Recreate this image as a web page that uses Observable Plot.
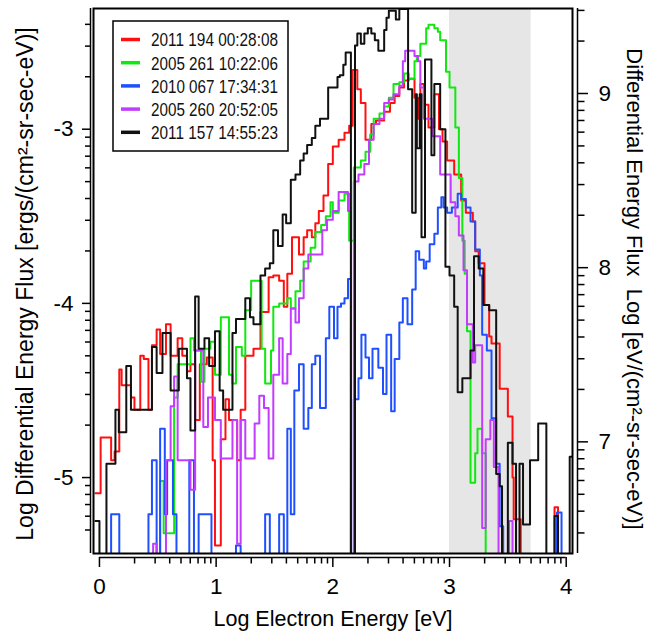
<!DOCTYPE html>
<html><head><meta charset="utf-8">
<script src="https://cdn.jsdelivr.net/npm/d3@7"></script>
<script src="https://cdn.jsdelivr.net/npm/@observablehq/plot@0.6"></script>
<style>html,body{margin:0;padding:0;background:#fff}#chart{width:646px;height:634px}</style>
</head><body><div id="chart"></div>
<script>
// ---- axes / labels ----
const xDomain = [-0.051, 4.054];
const yDomain = [-5.436, -2.307];
const ergToEvLog = 11.795;               // log10(eV per erg)
const xMajorTicks = [0, 1, 2, 3, 4];
const yMajorTicks = [-5, -4, -3];
const yRightMajorTicks = [7, 8, 9];
const minorFactors = [2, 3, 4, 5, 6, 7, 8, 9];
const shadedBand = [3, 3.699];
const xTitle = "Log Electron Energy [eV]";
const yLeftTitle = "Log Differential Energy Flux [ergs/(cm²-sr-sec-eV)]";
const yRightTitle = "Differential Energy Flux\u00A0 Log [eV/(cm²-sr-sec-eV)]";

const seriesLabels = ["2011 194 00:28:08", "2005 261 10:22:06", "2010 067 17:34:31", "2005 260 20:52:05", "2011 157 14:55:23"];
const seriesColors = ["#ff1010", "#10e810", "#1f50ff", "#c23cff", "#111111"];

// ---- data: [log energy (bin start), log flux] ; -6 = below scale ----
const red_2011_194 = [[-0.035,-5.09],[0.01,-4.77],[0.10,-4.90],[0.13,-4.85],[0.17,-4.38],[0.19,-4.47],[0.27,-4.54],[0.30,-4.61],[0.35,-4.30],[0.38,-4.32],[0.42,-4.61],[0.45,-4.24],[0.49,-4.15],[0.52,-4.29],[0.57,-4.12],[0.61,-4.30],[0.67,-4.20],[0.71,-4.30],[0.75,-4.39],[0.78,-4.35],[0.82,-4.67],[0.86,-4.35],[0.92,-4.31],[0.97,-4.90],[0.99,-5.39],[1.04,-4.78],[1.08,-4.55],[1.11,-4.67],[1.18,-4.90],[1.21,-4.61],[1.25,-4.30],[1.32,-4.26],[1.38,-4.05],[1.45,-3.85],[1.49,-3.84],[1.54,-3.87],[1.58,-4.02],[1.61,-3.83],[1.65,-3.62],[1.71,-3.72],[1.75,-3.62],[1.78,-3.58],[1.82,-3.62],[1.85,-3.54],[1.88,-3.47],[1.92,-3.38],[1.96,-3.20],[2.00,-3.10],[2.05,-3.06],[2.10,-3.02],[2.14,-2.98],[2.17,-2.66],[2.21,-2.77],[2.24,-2.85],[2.28,-3.06],[2.33,-2.97],[2.37,-2.95],[2.44,-2.90],[2.49,-2.85],[2.53,-2.81],[2.57,-2.76],[2.61,-2.72],[2.65,-2.71],[2.70,-2.82],[2.73,-2.94],[2.75,-2.74],[2.78,-2.86],[2.82,-2.99],[2.87,-2.80],[2.91,-3.00],[2.94,-3.07],[2.98,-3.18],[3.04,-3.26],[3.10,-3.41],[3.14,-3.48],[3.20,-3.53],[3.22,-3.70],[3.25,-3.77],[3.30,-4.01],[3.34,-4.19],[3.36,-4.23],[3.43,-4.49],[3.50,-4.65],[3.54,-5.00],[3.55,-5.24],[3.61,-6],[3.90,-5.17],[3.93,-6],[3.96,-6]];

const green_2005_261 = [[0.40,-6],[0.52,-5.02],[0.55,-5.32],[0.64,-4.54],[0.67,-4.35],[0.78,-4.20],[0.81,-4.27],[0.87,-4.45],[0.90,-4.26],[0.95,-4.22],[0.99,-4.41],[1.04,-4.08],[1.11,-4.41],[1.14,-4.46],[1.17,-4.25],[1.22,-4.30],[1.25,-4.04],[1.30,-3.87],[1.39,-4.26],[1.42,-4.46],[1.47,-4.27],[1.49,-4.02],[1.54,-4.00],[1.61,-3.97],[1.64,-4.03],[1.68,-3.93],[1.72,-3.87],[1.75,-3.76],[1.81,-3.68],[1.85,-3.59],[1.90,-3.55],[1.94,-3.50],[1.98,-3.42],[2.00,-3.48],[2.05,-3.41],[2.10,-3.37],[2.14,-3.64],[2.18,-3.22],[2.24,-3.18],[2.28,-3.13],[2.32,-3.03],[2.35,-2.94],[2.40,-2.91],[2.44,-2.87],[2.48,-2.82],[2.52,-2.74],[2.57,-2.73],[2.61,-2.68],[2.65,-2.71],[2.70,-2.61],[2.72,-2.58],[2.75,-2.51],[2.80,-2.42],[2.82,-2.40],[2.87,-2.42],[2.90,-2.44],[2.92,-2.49],[2.97,-2.67],[3.00,-2.76],[3.05,-2.99],[3.08,-3.28],[3.11,-3.64],[3.13,-3.83],[3.15,-4.16],[3.18,-5.03],[3.22,-4.86],[3.24,-4.72],[3.28,-4.86],[3.31,-6],[3.34,-6]];

const blue_2010_067 = [[0.05,-6],[0.10,-5.21],[0.17,-6],[0.42,-5.21],[0.45,-4.90],[0.49,-6],[0.52,-4.72],[0.56,-5.21],[0.58,-4.90],[0.63,-5.21],[0.66,-6],[0.77,-4.90],[0.81,-6],[0.85,-5.21],[0.96,-6],[1.17,-5.39],[1.21,-6],[1.42,-5.21],[1.46,-6],[1.54,-5.21],[1.58,-6],[1.61,-4.72],[1.64,-5.21],[1.67,-4.50],[1.71,-4.35],[1.75,-4.72],[1.79,-4.60],[1.82,-4.35],[1.85,-4.30],[1.89,-4.60],[1.94,-4.20],[1.97,-4.02],[2.01,-4.20],[2.04,-4.02],[2.07,-4.00],[2.10,-3.97],[2.13,-3.86],[2.155,-6],[2.18,-4.55],[2.22,-4.43],[2.245,-4.18],[2.28,-4.31],[2.31,-4.43],[2.34,-4.26],[2.39,-4.37],[2.43,-4.52],[2.46,-4.18],[2.50,-4.62],[2.53,-4.32],[2.57,-4.11],[2.60,-3.97],[2.64,-4.12],[2.68,-3.92],[2.71,-3.70],[2.74,-3.75],[2.78,-3.80],[2.80,-3.76],[2.83,-3.66],[2.87,-3.60],[2.90,-3.45],[2.93,-3.39],[2.95,-3.45],[2.98,-3.48],[3.02,-3.45],[3.07,-3.37],[3.10,-3.40],[3.14,-3.45],[3.18,-3.53],[3.22,-3.69],[3.26,-3.84],[3.28,-4.18],[3.32,-4.27],[3.36,-4.66],[3.40,-4.92],[3.43,-5.28],[3.46,-6],[3.92,-5.20],[3.96,-6],[3.98,-6]];

const magenta_2005_260 = [[0.40,-6],[0.46,-5.38],[0.49,-6],[0.57,-4.90],[0.61,-4.59],[0.64,-4.42],[0.67,-4.90],[0.78,-5.07],[0.82,-4.27],[0.89,-4.71],[0.93,-4.54],[0.99,-4.67],[1.04,-4.89],[1.14,-4.67],[1.18,-5.38],[1.21,-4.67],[1.25,-4.89],[1.33,-4.69],[1.37,-4.53],[1.41,-4.60],[1.45,-4.89],[1.49,-4.41],[1.54,-4.20],[1.57,-4.46],[1.61,-4.29],[1.64,-4.03],[1.68,-4.11],[1.71,-3.97],[1.75,-3.80],[1.79,-3.72],[1.91,-3.58],[1.95,-3.52],[2.00,-3.47],[2.05,-3.36],[2.13,-3.47],[2.155,-6],[2.18,-3.30],[2.22,-3.26],[2.27,-3.20],[2.31,-3.06],[2.35,-2.97],[2.40,-2.94],[2.44,-2.85],[2.48,-2.83],[2.52,-2.80],[2.57,-2.75],[2.60,-2.61],[2.62,-2.55],[2.70,-2.58],[2.73,-2.61],[2.75,-2.76],[2.78,-2.94],[2.85,-3.04],[2.92,-3.26],[3.01,-3.42],[3.05,-3.50],[3.08,-3.61],[3.12,-3.81],[3.15,-4.12],[3.20,-4.34],[3.22,-4.24],[3.28,-5.29],[3.31,-4.78],[3.35,-4.67],[3.38,-4.94],[3.42,-6],[3.51,-5.25],[3.54,-6],[3.56,-6]];

const black_2011_157 = [[-0.035,-5.25],[0.00,-6],[0.06,-4.92],[0.137,-4.61],[0.166,-4.74],[0.23,-4.36],[0.27,-4.61],[0.45,-4.25],[0.49,-4.40],[0.54,-4.17],[0.61,-4.50],[0.68,-4.26],[0.75,-4.43],[0.78,-4.73],[0.82,-3.96],[0.85,-4.26],[0.90,-4.20],[0.94,-4.36],[0.99,-4.16],[1.03,-4.50],[1.06,-4.61],[1.14,-4.17],[1.17,-4.09],[1.25,-3.97],[1.29,-4.08],[1.32,-4.12],[1.38,-3.84],[1.42,-3.80],[1.46,-3.77],[1.49,-3.58],[1.53,-3.67],[1.57,-3.49],[1.60,-3.54],[1.64,-3.29],[1.68,-3.26],[1.72,-3.18],[1.75,-3.14],[1.78,-3.09],[1.82,-3.05],[1.85,-2.98],[1.89,-2.94],[1.96,-2.76],[2.04,-2.70],[2.06,-2.69],[2.09,-2.63],[2.11,-2.56],[2.155,-6],[2.19,-2.52],[2.21,-2.45],[2.24,-2.51],[2.27,-2.45],[2.30,-2.42],[2.33,-2.45],[2.36,-2.49],[2.39,-2.55],[2.44,-2.43],[2.46,-2.36],[2.48,-2.32],[2.54,-2.37],[2.57,-2.31],[2.645,-2.77],[2.68,-3.48],[2.71,-2.80],[2.72,-3.11],[2.745,-2.80],[2.76,-3.62],[2.79,-2.60],[2.845,-3.15],[2.87,-2.74],[2.92,-3.00],[2.965,-3.79],[3.00,-3.84],[3.04,-4.02],[3.07,-4.51],[3.11,-4.43],[3.18,-4.27],[3.21,-3.73],[3.25,-3.80],[3.29,-4.01],[3.34,-4.04],[3.40,-4.98],[3.43,-5.05],[3.45,-6],[3.50,-4.80],[3.54,-4.92],[3.57,-6],[3.60,-4.92],[3.63,-5.27],[3.69,-4.90],[3.76,-4.69],[3.83,-6],[3.90,-5.22],[3.93,-6],[4.03,-4.88],[4.06,-4.88]];

const seriesData = [red_2011_194, green_2005_261, blue_2010_067, magenta_2005_260, black_2011_157];

// ---- derived tick sets ----
const logMinor = (decades) => decades.flatMap(d => minorFactors.map(k => d + Math.log10(k)));
const xMinor = logMinor(xMajorTicks.slice(0, -1));
const yMinor = logMinor([-6, -5, -4, -3]).filter(v => v > yDomain[0] + 0.06 && v < yDomain[1]);
const yRightMinor = logMinor([6, 7, 8, 9]).map(v => v - ergToEvLog).filter(v => v > yDomain[0] + 0.06 && v < yDomain[1]);

const lineMarks = seriesData.map((s, i) =>
  Plot.line(s, {x: d => d[0], y: d => d[1], curve: "step-after", stroke: seriesColors[i], strokeWidth: 2, clip: true})
);

const fig = Plot.plot({
  width: 646, height: 634,
  marginLeft: 93, marginRight: 74, marginTop: 8, marginBottom: 81,
  x: {domain: xDomain, axis: null},
  y: {domain: yDomain, axis: null},
  style: {fontFamily: "'Liberation Sans', Arial, Helvetica, sans-serif", background: "white", color: "black"},
  marks: [
    Plot.rect([shadedBand], {x1: d => d[0], x2: d => d[1], y1: yDomain[0], y2: yDomain[1], fill: "#e6e6e6"}),
    ...lineMarks,
    Plot.frame({stroke: "black", strokeWidth: 2}),
    Plot.ruleX([xDomain[0]], {dx: -3, strokeWidth: 1.5}),
    Plot.ruleX([xDomain[1]], {dx: 5, strokeWidth: 1.5}),
    Plot.ruleY([yDomain[0]], {x1: xMajorTicks[0], x2: xMajorTicks[xMajorTicks.length - 1], dy: 4, strokeWidth: 1.5}),
    Plot.axisY({anchor: "left", ticks: yMajorTicks, tickSize: 8, tickPadding: 9, dx: -3, fontSize: 22.5, strokeWidth: 1.5, tickFormat: d => String(d)}),
    Plot.axisY({anchor: "left", ticks: yMinor, tickSize: 5, dx: -3, strokeWidth: 1.5, tickFormat: () => ""}),
    Plot.axisY({anchor: "right", ticks: yRightMajorTicks.map(v => v - ergToEvLog), tickSize: 10, tickPadding: 11, dx: 5, fontSize: 22.5, strokeWidth: 1.5, tickFormat: d => String(Math.round(d + ergToEvLog))}),
    Plot.axisY({anchor: "right", ticks: yRightMinor, tickSize: 6.5, dx: 5, strokeWidth: 1.5, tickFormat: () => ""}),
    Plot.axisX({anchor: "bottom", ticks: xMajorTicks, tickSize: 10, tickPadding: 11, dy: 4, fontSize: 22.5, strokeWidth: 1.5, tickFormat: d => String(d)}),
    Plot.axisX({anchor: "bottom", ticks: xMinor, tickSize: 6.5, dy: 4, strokeWidth: 1.5, tickFormat: () => ""}),
    Plot.text([yLeftTitle], {text: d => d, frameAnchor: "left", textAnchor: "middle", dx: -61, dy: 3, rotate: -90, lineAnchor: "bottom", fontSize: 23}),
    Plot.text([yRightTitle], {text: d => d, frameAnchor: "right", textAnchor: "middle", dx: 54, dy: 8, rotate: 90, lineAnchor: "bottom", fontSize: 22}),
    Plot.text([xTitle], {text: d => d, frameAnchor: "bottom", textAnchor: "middle", dy: 72, lineAnchor: "bottom", fontSize: 21.5})
  ]
});
document.getElementById("chart").appendChild(fig);

// ---- legend (inside plot, top-left) ----
const svgEl = fig.tagName.toLowerCase() === "svg" ? fig : fig.querySelector("svg");
const lg = d3.select(svgEl).append("g")
  .attr("font-family", "'Liberation Sans Narrow', 'Arial Narrow', 'Liberation Sans', Arial, sans-serif")
  .attr("text-anchor", "start");
lg.append("rect").attr("x", 113).attr("y", 21).attr("width", 175).attr("height", 130)
  .attr("fill", "white").attr("stroke", "black").attr("stroke-width", 1.5);
seriesLabels.forEach((label, i) => {
  const yy = 39.5 + i * 23.2;
  lg.append("line").attr("x1", 121).attr("x2", 140).attr("y1", yy).attr("y2", yy)
    .attr("stroke", seriesColors[i]).attr("stroke-width", 3.5);
  lg.append("text").attr("x", 151).attr("y", yy).attr("dy", "0.36em")
    .attr("font-size", 19).attr("fill", "#111")
    .style("text-anchor", "start")
    .attr("textLength", 127).attr("lengthAdjust", "spacingAndGlyphs")
    .text(label);
});
</script></body></html>
